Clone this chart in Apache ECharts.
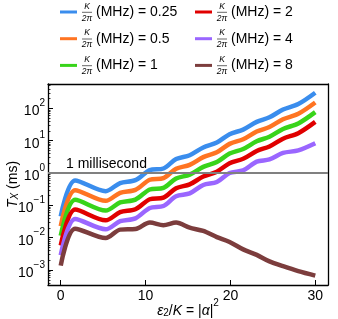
<!DOCTYPE html>
<html>
<head>
<meta charset="utf-8">
<script src="https://cdn.jsdelivr.net/npm/echarts@6/dist/echarts.min.js"></script>
<style>html,body{margin:0;padding:0;background:#fff;}#c{width:338px;height:319px;}</style>
</head>
<body>
<div id="c"></div>
<script>
// x values: eps2/K = |alpha|^2
var xVals = [0, 1.7, 5.3, 7.0, 8.8, 10.5, 12.1, 13.6, 15.2, 16.8, 18.4, 19.9, 21.5, 23.1, 24.6, 26.2, 28.0, 30];
// T_X (ms) for each K/2pi
var tBlue   = [4.57e-2, 5.89e-1, 2.75e-1, 4.90e-1, 6.03e-1, 1.23, 1.38, 2.69, 3.55, 6.17, 8.71, 15.8, 21.9, 38.0, 52.5, 91.2, 135, 302];
var tOrange = [2.29e-2, 2.95e-1, 1.38e-1, 2.45e-1, 3.02e-1, 6.17e-1, 6.92e-1, 1.35, 1.78, 3.09, 4.37, 7.94, 11.0, 19.1, 26.3, 45.7, 67.6, 151];
var tGreen  = [1.15e-2, 1.48e-1, 6.92e-2, 1.23e-1, 1.51e-1, 3.09e-1, 3.47e-1, 6.76e-1, 8.91e-1, 1.55, 2.19, 3.98, 5.50, 9.55, 13.2, 22.9, 33.9, 75.9];
var tRed    = [5.75e-3, 7.41e-2, 3.47e-2, 6.17e-2, 7.59e-2, 1.55e-1, 1.74e-1, 3.39e-1, 4.47e-1, 7.76e-1, 1.10, 2.00, 2.75, 4.79, 6.61, 11.5, 17.0, 38.0];
var tPurple = [2.88e-3, 3.80e-2, 1.82e-2, 3.24e-2, 3.98e-2, 8.32e-2, 9.55e-2, 1.91e-1, 2.34e-1, 4.27e-1, 5.25e-1, 1.00, 1.20, 2.24, 2.63, 4.17, 5.01, 8.32];
var tBrown  = [1.38e-3, 1.91e-2, 9.77e-3, 1.78e-2, 1.86e-2, 2.95e-2, 2.45e-2, 2.95e-2, 2.04e-2, 1.62e-2, 1.05e-2, 7.41e-3, 4.37e-3, 2.95e-3, 1.86e-3, 1.32e-3, 9.33e-4, 6.76e-4];
var kappaLabels = ['0.25', '0.5', '1', '2', '4', '8'];
var xTicks = [0, 10, 20, 30];
var yMajorTicks = [1e-3, 1e-2, 1e-1, 1, 10, 100];
var yMinorTicks = [];
[1e-4, 1e-3, 1e-2, 1e-1, 1, 10, 100].forEach(function (d) {
  for (var k = 2; k <= 9; k++) {
    var v = k * d;
    if (v > 3.5e-4 && v < 560) yMinorTicks.push(v);
  }
});
var refLine = 1; // 1 millisecond

var colors = ['#3a8ded', '#ff7422', '#38d41a', '#e00000', '#9a66ff', '#7c3d3d'];
var allData = [tBlue, tOrange, tGreen, tRed, tPurple, tBrown];
var FONT = 'Liberation Sans, Arial, sans-serif';
var YMIN = Math.pow(10, -3.46), YMAX = Math.pow(10, 2.75);

var names = kappaLabels.map(function (k) { return 'K/2π (MHz) = ' + k; });

var series = allData.map(function (vals, i) {
  return {
    type: 'line',
    name: names[i],
    data: xVals.map(function (x, j) { return [x, vals[j]]; }),
    showSymbol: false,
    smooth: 0.3,
    lineStyle: { width: 4.5, color: colors[i] },
    itemStyle: { color: colors[i] }
  };
});
series.push({
  type: 'line',
  data: [],
  silent: true,
  markLine: {
    silent: true,
    symbol: 'none',
    animation: false,
    lineStyle: { color: '#808080', width: 2, type: 'solid' },
    label: {
      show: true, position: 'insideStartTop', formatter: '1 millisecond',
      fontSize: 14, color: '#000', fontFamily: FONT, distance: [18, 2]
    },
    data: [{ yAxis: refLine }]
  }
});

function legendFmt(name) {
  return '{s| }{t|' + name.replace('K/2π ', '') + '}';
}
var legendText = {
  fontSize: 14, color: '#000', fontFamily: FONT, lineHeight: 16,
  rich: { s: { width: 14, fontSize: 14 }, t: { fontSize: 14, fontFamily: FONT, color: '#000', lineHeight: 16 } }
};
function legendCfg(data, left) {
  return {
    data: data, orient: 'vertical', left: left, top: 4, padding: 0,
    itemWidth: 17, itemHeight: 3, itemGap: 10.7, icon: 'rect',
    textStyle: legendText, formatter: legendFmt, selectedMode: false
  };
}

// fraction K / 2π drawn next to each legend entry
var graphics = [];
var fracCenters = [87, 222];
var rowY = [12.3, 39, 65.7];
for (var c = 0; c < 2; c++) {
  for (var r = 0; r < 3; r++) {
    var cx = fracCenters[c], cy = rowY[r];
    graphics.push({ type: 'text', x: cx, y: cy - 1.5, style: { text: 'K', font: 'italic 8.5px ' + FONT, fill: '#000', textAlign: 'center', textVerticalAlign: 'bottom' } });
    graphics.push({ type: 'line', shape: { x1: cx - 5, y1: cy, x2: cx + 5, y2: cy }, style: { stroke: '#000', lineWidth: 0.6 } });
    graphics.push({ type: 'text', x: cx, y: cy + 1.5, style: { text: '2π', font: 'italic 8.5px ' + FONT, fill: '#000', textAlign: 'center', textVerticalAlign: 'top' } });
  }
}

var frameLine = { show: true, onZero: false, lineStyle: { color: '#000', width: 1.3 } };

var chart = echarts.init(document.getElementById('c'), null, { renderer: 'canvas' });
chart.setOption({
  animation: false,
  backgroundColor: '#fff',
  textStyle: { fontFamily: FONT },
  legend: [legendCfg(names.slice(0, 3), 60), legendCfg(names.slice(3), 195)],
  grid: { left: 48, right: 10, top: 84, bottom: 34, containLabel: false, outerBoundsMode: 'none' },
  xAxis: [{
    type: 'value', min: -1.5, max: 31.5,
    axisLine: frameLine,
    splitLine: { show: false },
    axisTick: { inside: true, length: 5, customValues: xTicks, lineStyle: { color: '#000', width: 1 } },
    axisLabel: { customValues: xTicks, fontSize: 14, color: '#000', margin: 4, fontFamily: FONT },
    name: '{i|ε}{sub|2}{n|/}{i|K}{n| = |}{i|α}{n||}{sup|2}',
    nameLocation: 'middle', nameGap: 13, nameMoveOverlap: false,
    nameTextStyle: {
      rich: {
        i: { fontSize: 14, fontStyle: 'italic', fontFamily: FONT, color: '#000', lineHeight: 20, verticalAlign: 'bottom' },
        n: { fontSize: 14, fontFamily: FONT, color: '#000', lineHeight: 20, verticalAlign: 'bottom' },
        sub: { fontSize: 10, fontFamily: FONT, color: '#000', lineHeight: 12, verticalAlign: 'bottom' },
        sup: { fontSize: 10, fontFamily: FONT, color: '#000', lineHeight: 12, verticalAlign: 'top' }
      }
    }
  }, {
    type: 'value', min: -1.5, max: 31.5, position: 'top',
    axisLine: frameLine, axisTick: { show: false }, axisLabel: { show: false }, splitLine: { show: false }
  }],
  yAxis: [{
    type: 'log', logBase: 10, min: YMIN, max: YMAX,
    axisLine: frameLine,
    splitLine: { show: false },
    minorTick: { show: false },
    axisTick: { inside: true, length: 5, customValues: yMajorTicks, lineStyle: { color: '#000', width: 1 } },
    axisLabel: {
      customValues: yMajorTicks, margin: 3, color: '#000', fontFamily: FONT,
      formatter: function (v) {
        var e = Math.round(Math.log10(v));
        return '{b|10}{e|' + (e < 0 ? '\u2212' + (-e) : e) + '}';
      },
      rich: {
        b: { fontSize: 14, fontFamily: FONT, color: '#000', lineHeight: 20, verticalAlign: 'bottom' },
        e: { fontSize: 10, fontFamily: FONT, color: '#000', lineHeight: 12, verticalAlign: 'top' }
      }
    },
    name: '{i|T}{sub|X}{n| (ms)}',
    nameLocation: 'middle', nameRotate: 90, nameGap: 28, nameMoveOverlap: false,
    nameTextStyle: {
      rich: {
        i: { fontSize: 14, fontStyle: 'italic', fontFamily: FONT, color: '#000', lineHeight: 20, verticalAlign: 'bottom' },
        n: { fontSize: 14, fontFamily: FONT, color: '#000', lineHeight: 20, verticalAlign: 'bottom' },
        sub: { fontSize: 10, fontStyle: 'italic', fontFamily: FONT, color: '#000', lineHeight: 14, verticalAlign: 'bottom' }
      }
    }
  }, {
    type: 'log', logBase: 10, min: YMIN, max: YMAX,
    position: 'left', offset: 0,
    axisLine: { show: false, onZero: false },
    splitLine: { show: false },
    axisTick: { inside: true, length: 2.5, customValues: yMinorTicks, lineStyle: { color: '#000', width: 0.8 } },
    axisLabel: { show: false }
  }, {
    type: 'log', logBase: 10, min: YMIN, max: YMAX,
    position: 'right',
    axisLine: frameLine,
    splitLine: { show: false },
    axisTick: { show: false },
    axisLabel: { show: false }
  }],
  graphic: graphics,
  series: series
});
</script>
</body>
</html>
